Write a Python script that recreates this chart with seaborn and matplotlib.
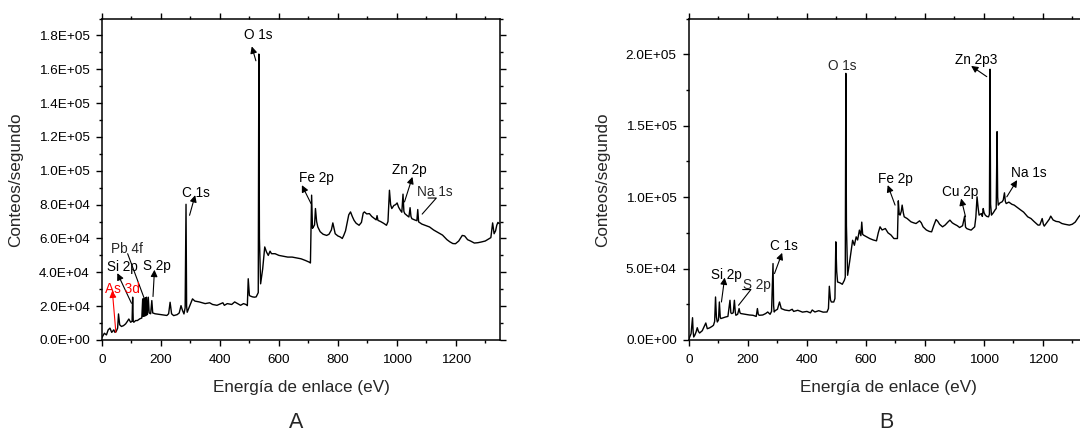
import matplotlib
matplotlib.use("Agg")
import matplotlib.pyplot as plt
from matplotlib.ticker import MultipleLocator, FuncFormatter
import pandas as pd
import seaborn as sns

# Spectrum A: (binding energy eV, counts/s)
spectrum_a = [
    (0, 1500), (8, 4000), (15, 3000), (21, 6000), (27, 7000), (33, 4500), (40, 6000), (44, 4500),
    (48, 5000), (53, 7000), (56, 15400), (60, 9000), (66, 8000), (73, 8500), (80, 9500), (86, 11000),
    (91, 12400), (97, 10500), (102, 11000), (104, 25300), (106, 11000), (108, 10500), (114, 11500),
    (120, 11500), (128, 12500), (135, 13000), (138, 24300), (140, 14000), (142, 24500), (145, 14000),
    (147, 25000), (149, 14500), (151, 25300), (154, 15000), (157, 25300), (160, 16000), (165, 15500),
    (169, 23300), (172, 16000), (180, 15500), (200, 15000), (220, 14500), (226, 15500), (231, 22300),
    (236, 15500), (243, 14400), (255, 15000), (262, 16000), (268, 20300), (273, 17500), (278, 15400),
    (282, 19000), (285, 80200), (287, 20000), (289, 16400), (295, 19000), (302, 22000), (307, 24300),
    (315, 23000), (330, 22500), (350, 21500), (365, 22000), (375, 21000), (390, 20500), (410, 22000),
    (415, 20500), (425, 21500), (440, 21000), (450, 22500), (470, 20500), (480, 21500), (488, 21000),
    (493, 20300), (496, 36200), (500, 26300), (503, 26000), (510, 25500), (517, 25300), (523, 25500),
    (528, 27300), (530, 28000), (532, 169000), (534, 60000), (538, 33200), (545, 42000), (552, 55000),
    (558, 52000), (564, 50000), (570, 52500), (575, 51000), (587, 51000), (600, 50000), (615, 49500),
    (630, 49000), (645, 49000), (660, 48500), (675, 48000), (690, 47000), (703, 46000), (707, 45500),
    (711, 85600), (714, 66000), (717, 66800), (721, 68000), (724, 77700), (728, 70000), (732, 66800),
    (740, 64000), (750, 62500), (762, 61800), (770, 62500), (778, 65000), (783, 69200), (787, 66000),
    (791, 62800), (800, 61500), (808, 60900), (815, 60000), (820, 61800), (826, 64500), (831, 68800),
    (837, 74000), (843, 75700), (849, 73000), (855, 70700), (862, 69000), (872, 67800), (880, 69500),
    (886, 75000), (890, 75700), (898, 74500), (907, 74700), (915, 73000), (925, 71700), (930, 71000),
    (933, 73500), (936, 70700), (945, 70000), (955, 69000), (965, 67800), (970, 70000), (975, 88500),
    (979, 80000), (983, 77700), (990, 79500), (996, 80000), (1001, 81000), (1006, 78500),
    (1012, 76700), (1017, 75500), (1021, 86200), (1024, 76000), (1027, 74700), (1035, 73500),
    (1041, 72700), (1045, 78200), (1048, 73000), (1051, 71700), (1060, 71000), (1068, 70500),
    (1071, 77100), (1074, 69800), (1085, 68500), (1100, 67500), (1111, 66800), (1125, 65000),
    (1140, 63500), (1155, 62000), (1170, 59300), (1180, 58000), (1190, 57000), (1199, 56900),
    (1210, 58500), (1222, 61800), (1230, 61500), (1240, 59300), (1250, 58500), (1263, 57300),
    (1275, 57500), (1286, 57900), (1300, 58500), (1312, 59800), (1319, 60500), (1325, 69200),
    (1330, 62800), (1335, 64500), (1339, 67800), (1343, 69500), (1347, 68800),
]

# Spectrum B
spectrum_b = [
    (0, 900), (4, 3000), (7, 4400), (12, 15600), (14, 6000), (16, 2100), (20, 3500), (24, 5600),
    (28, 8600), (32, 6000), (36, 4900), (45, 6500), (57, 11900), (62, 7900), (70, 8500), (78, 9500),
    (83, 10300), (87, 13000), (90, 30100), (93, 16000), (96, 12600), (100, 14000), (103, 26600),
    (106, 16000), (108, 15000), (115, 15500), (124, 16100), (132, 16500), (139, 27800), (142, 19000),
    (145, 18500), (150, 19000), (154, 27800), (157, 19500), (159, 17300), (165, 18000), (170, 22000),
    (173, 19000), (176, 18500), (190, 18000), (205, 17500), (217, 17300), (228, 16500), (232, 22000),
    (235, 18000), (238, 17300), (250, 17500), (260, 18500), (267, 19600), (271, 18800), (275, 18000),
    (280, 20000), (285, 53500), (287, 24000), (289, 19600), (292, 20500), (300, 21500), (307, 26600),
    (313, 22000), (325, 21000), (340, 20500), (350, 21500), (355, 20000), (369, 20800), (385, 19500),
    (400, 20000), (412, 19000), (418, 21000), (427, 19600), (440, 20500), (455, 19500), (468, 19600),
    (473, 22000), (476, 37600), (480, 28000), (483, 26600), (491, 26600), (495, 29000), (498, 68700),
    (501, 48000), (504, 40600), (512, 40000), (520, 39000), (527, 41800), (530, 44000), (532, 186600),
    (534, 80000), (538, 45300), (545, 55000), (555, 69800), (558, 68000), (561, 66300), (567, 72200),
    (572, 70000), (578, 76900), (583, 73000), (586, 82500), (589, 74000), (592, 73400), (600, 72500),
    (613, 71000), (625, 70000), (636, 69400), (642, 75000), (648, 79200), (655, 77000), (666, 78000),
    (675, 75000), (685, 73500), (695, 71000), (707, 71000), (710, 97400), (713, 88000), (716, 87400),
    (720, 90000), (723, 94400), (727, 89000), (730, 86200), (740, 85000), (753, 82700), (762, 82000),
    (770, 81500), (782, 83400), (788, 82000), (794, 79200), (805, 77000), (815, 76000), (823, 75700),
    (830, 80000), (838, 84300), (844, 83000), (850, 81000), (860, 79200), (869, 80500), (878, 82500),
    (885, 83900), (893, 82000), (900, 81100), (910, 80000), (918, 78700), (928, 80000), (935, 86700),
    (938, 79000), (942, 78000), (948, 77500), (957, 76900), (963, 78000), (969, 79200), (973, 86000),
    (977, 100200), (981, 92000), (984, 87400), (988, 88000), (992, 88500), (995, 86500), (998, 92000),
    (1001, 89000), (1005, 87400), (1010, 86500), (1016, 86200), (1019, 88000), (1021, 189500),
    (1023, 95000), (1026, 87400), (1032, 89000), (1039, 91300), (1042, 92000), (1045, 145800),
    (1047, 100000), (1049, 94400), (1055, 96000), (1062, 96700), (1066, 98000), (1070, 103000),
    (1073, 97000), (1076, 95500), (1085, 96500), (1095, 95000), (1103, 94400), (1115, 92500),
    (1125, 91000), (1135, 89500), (1149, 86200), (1160, 85000), (1170, 83000), (1184, 80400),
    (1190, 80500), (1198, 85000), (1202, 81000), (1205, 79700), (1215, 82500), (1222, 84500),
    (1227, 86700), (1235, 84000), (1245, 83000), (1255, 82700), (1265, 81500), (1275, 81000),
    (1290, 80400), (1300, 81000), (1310, 82500), (1322, 86200), (1330, 88000), (1340, 87500),
    (1350, 89000),
]

# (label, text xy, arrow tail, arrow head, colour)
notes_a = [
    ("O 1s", (531, 180000), (522, 165000), (508, 173500), "black"),
    ("C 1s", (318, 87000), (297, 73700), (316, 85600), "black"),
    ("Fe 2p", (727, 95800), (709, 80600), (678, 91500), "black"),
    ("Zn 2p", (1041, 100400), (1026, 81600), (1053, 96400), "black"),
    ("Si 2p", (68, 43100), (100, 21700), (52, 39500), "black"),
    ("S 2p", (188, 43500), (173, 25700), (178, 41500), "black"),
    ("As 3d", (68, 30200), (47, 4500), (35, 29200), "red"),
]
notes_b = [
    ("Zn 2p3", (973, 196000), (1010, 184300), (957, 191800), "black"),
    ("Fe 2p", (699, 112600), (699, 94400), (674, 108400), "black"),
    ("Cu 2p", (919, 103300), (938, 86200), (923, 99000), "black"),
    ("Na 1s", (1153, 116600), (1078, 100200), (1113, 111900), "black"),
    ("C 1s", (322, 65600), (290, 46500), (316, 61000), "black"),
    ("Si 2p", (127, 45300), (110, 26600), (121, 43700), "black"),
]

sns.set_style("ticks")
plt.rcParams["font.family"] = ["Liberation Sans", "DejaVu Sans"]

fig = plt.figure(figsize=(10.8, 4.32), dpi=100)
ax_a = fig.add_axes([102 / 1080, 92 / 432, 398 / 1080, 321.5 / 432])
ax_b = fig.add_axes([689 / 1080, 92 / 432, 398 / 1080, 321.5 / 432])

df_a = pd.DataFrame(spectrum_a, columns=["E", "c"])
df_b = pd.DataFrame(spectrum_b, columns=["E", "c"])
sns.lineplot(data=df_a, x="E", y="c", ax=ax_a, color="black", lw=1.0, sort=False, estimator=None)
sns.lineplot(data=df_b, x="E", y="c", ax=ax_b, color="black", lw=1.0, sort=False, estimator=None)

sci = FuncFormatter(lambda v, p: f"{v:.1E}")
for ax, ymax, ystep in [(ax_a, 1.9e5, 2e4), (ax_b, 2.25e5, 5e4)]:
    ax.set_xlim(0, 1350)
    ax.set_ylim(0, ymax)
    ax.xaxis.set_major_locator(MultipleLocator(200))
    ax.xaxis.set_minor_locator(MultipleLocator(100))
    ax.yaxis.set_major_locator(MultipleLocator(ystep))
    ax.yaxis.set_minor_locator(MultipleLocator(ystep / 2))
    ax.yaxis.set_major_formatter(sci)
    ax.tick_params(which="both", direction="out", top=True, right=True, width=1, labelsize=9.7,
                   color="black", labelcolor="black")
    ax.tick_params(which="major", length=4.3)
    ax.tick_params(axis="x", which="major", pad=6)
    ax.tick_params(axis="y", which="major", pad=4.5)
    ax.tick_params(which="minor", length=2.2)
    for s in ax.spines.values():
        s.set_visible(True)
        s.set_linewidth(1.1)
        s.set_color("black")
    ax.set_xlabel("Energía de enlace (eV)", fontsize=12.3, labelpad=10)
    ax.set_ylabel("Conteos/segundo", fontsize=12.3, labelpad=11)

arrow = dict(arrowstyle="-|>", lw=0.8, mutation_scale=10, shrinkA=0, shrinkB=0)
for ax, notes in [(ax_a, notes_a), (ax_b, notes_b)]:
    for label, txy, tail, head, col in notes:
        ax.text(txy[0], txy[1], label, fontsize=9.8, color=col, ha="center", va="center")
        ax.annotate("", xy=head, xytext=tail, arrowprops=dict(arrow, color=col))

# plain leader lines without heads
ax_a.text(1129, 87500, "Na 1s", fontsize=9.8, ha="center", va="center")
ax_a.plot([1086, 1134, 1106], [74400, 83900, 83900], color="black", lw=0.8)
ax_a.text(83, 54000, "Pb 4f", fontsize=9.8, ha="center", va="center")
ax_a.plot([87, 143], [51000, 24700], color="black", lw=0.8)
ax_b.text(520, 192000, "O 1s", fontsize=9.8, ha="center", va="center")
ax_b.text(229, 38800, "S 2p", fontsize=9.8, ha="center", va="center")
ax_b.plot([168, 210, 182], [24300, 35300, 35300], color="black", lw=0.8)

fig.text(296 / 1080, 1 - 422 / 432, "A", fontsize=15.5, ha="center", va="center")
fig.text(886 / 1080, 1 - 422 / 432, "B", fontsize=15.5, ha="center", va="center")

fig.savefig("out.png", dpi=100)
